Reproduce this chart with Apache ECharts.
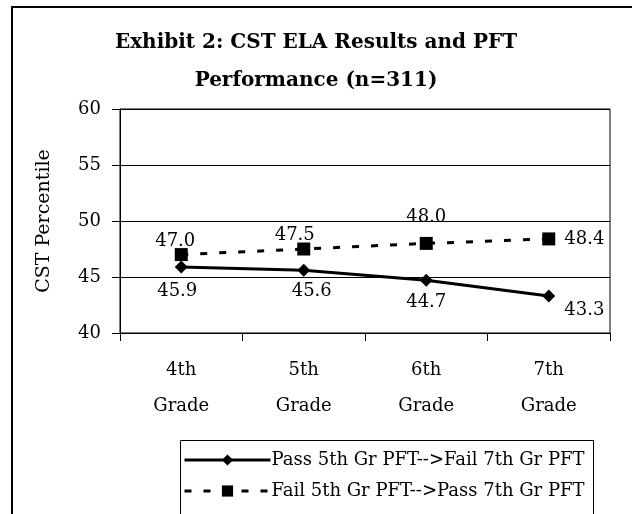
<!DOCTYPE html>
<html>
<head>
<meta charset="utf-8">
<script src="https://cdn.jsdelivr.net/npm/echarts@6/dist/echarts.min.js"></script>
<style>
  html, body { margin: 0; padding: 0; background: #fff; }
  #chart { width: 632px; height: 514px; }
</style>
</head>
<body>
<div id="chart"></div>
<script>
const grades = ['4th\nGrade', '5th\nGrade', '6th\nGrade', '7th\nGrade'];
const passFail = [45.9, 45.6, 44.7, 43.3];
const failPass = [47.0, 47.5, 48.0, 48.4];
const seriesNames = ['Pass 5th Gr PFT-->Fail 7th Gr PFT', 'Fail 5th Gr PFT-->Pass 7th Gr PFT'];

const font = 'DejaVu Serif';

// label placement per point, as in the original exhibit
const passLabels = [
  { position: 'bottom', offset: [-4, 4] },
  { position: 'bottom', offset: [8, 1] },
  { position: 'bottom', offset: [0, 1] },
  { position: 'right', offset: [4, 14] }
];
const failLabels = [
  { position: 'top', offset: [-6, 7] },
  { position: 'top', offset: [-9, 7] },
  { position: 'top', offset: [0, -6] },
  { position: 'right', offset: [4, 0] }
];

let myChart = echarts.init(document.getElementById('chart'), null, { renderer: 'canvas' });

let option = {
  animation: false,
  backgroundColor: '#fff',
  textStyle: { fontFamily: font, color: '#000' },
  title: {
    text: 'Exhibit 2: CST ELA Results and PFT\nPerformance (n=311)',
    left: 'center',
    top: 19,
    textStyle: {
      fontFamily: font,
      fontSize: 20,
      fontWeight: 'bold',
      color: '#000',
      lineHeight: 38
    }
  },
  graphic: [
    {
      type: 'rect',
      shape: { x: 12, y: 7, width: 660, height: 560 },
      style: { fill: 'none', stroke: '#000', lineWidth: 2 },
      silent: true
    },
    {
      type: 'rect',
      shape: { x: 180.5, y: 440.5, width: 413, height: 100 },
      style: { fill: 'none', stroke: '#000', lineWidth: 1 },
      silent: true
    }
  ],
  grid: {
    left: 120,
    top: 109,
    width: 490,
    height: 224,
    show: true,
    borderColor: '#000',
    borderWidth: 1
  },
  xAxis: {
    type: 'category',
    data: grades,
    boundaryGap: true,
    axisLine: { lineStyle: { color: '#000', width: 1 } },
    axisTick: { show: true, length: 8, inside: false, lineStyle: { color: '#000' } },
    axisLabel: {
      color: '#000',
      fontFamily: font,
      fontSize: 18,
      lineHeight: 36,
      margin: 19
    }
  },
  yAxis: {
    type: 'value',
    min: 40,
    max: 60,
    interval: 5,
    name: 'CST Percentile',
    nameLocation: 'middle',
    nameGap: 66,
    nameTextStyle: { fontFamily: font, fontSize: 19, color: '#000' },
    axisLine: { show: true, lineStyle: { color: '#000', width: 1 } },
    axisTick: { show: true, length: 8, lineStyle: { color: '#000' } },
    axisLabel: { color: '#000', fontFamily: font, fontSize: 18, margin: 19 },
    splitLine: { show: true, lineStyle: { color: '#000', width: 1 } }
  },
  legend: {
    orient: 'vertical',
    left: 183,
    top: 451,
    itemWidth: 86,
    itemHeight: 14,
    itemGap: 13,
    padding: 0,
    lineStyle: { width: 3 },
    textStyle: { fontFamily: font, fontSize: 18, color: '#000', padding: [0, 0, 0, -4] },
    data: seriesNames
  },
  series: [
    {
      name: seriesNames[0],
      type: 'line',
      data: passFail.map((v, i) => ({ value: v, label: passLabels[i] })),
      symbol: 'diamond',
      symbolSize: 13,
      lineStyle: { color: '#000', width: 3, type: 'solid' },
      itemStyle: { color: '#000' },
      label: {
        show: true,
        color: '#000',
        fontFamily: font,
        fontSize: 18,
        formatter: (p) => p.value.toFixed(1)
      }
    },
    {
      name: seriesNames[1],
      type: 'line',
      data: failPass.map((v, i) => ({ value: v, label: failLabels[i] })),
      symbol: 'rect',
      symbolSize: 13,
      lineStyle: { color: '#000', width: 3, type: [7, 12] },
      itemStyle: { color: '#000' },
      label: {
        show: true,
        color: '#000',
        fontFamily: font,
        fontSize: 18,
        formatter: (p) => p.value.toFixed(1)
      }
    }
  ]
};

myChart.setOption(option);

window.addEventListener('resize', function() {
  myChart.resize();
});
</script>
</body>
</html>
